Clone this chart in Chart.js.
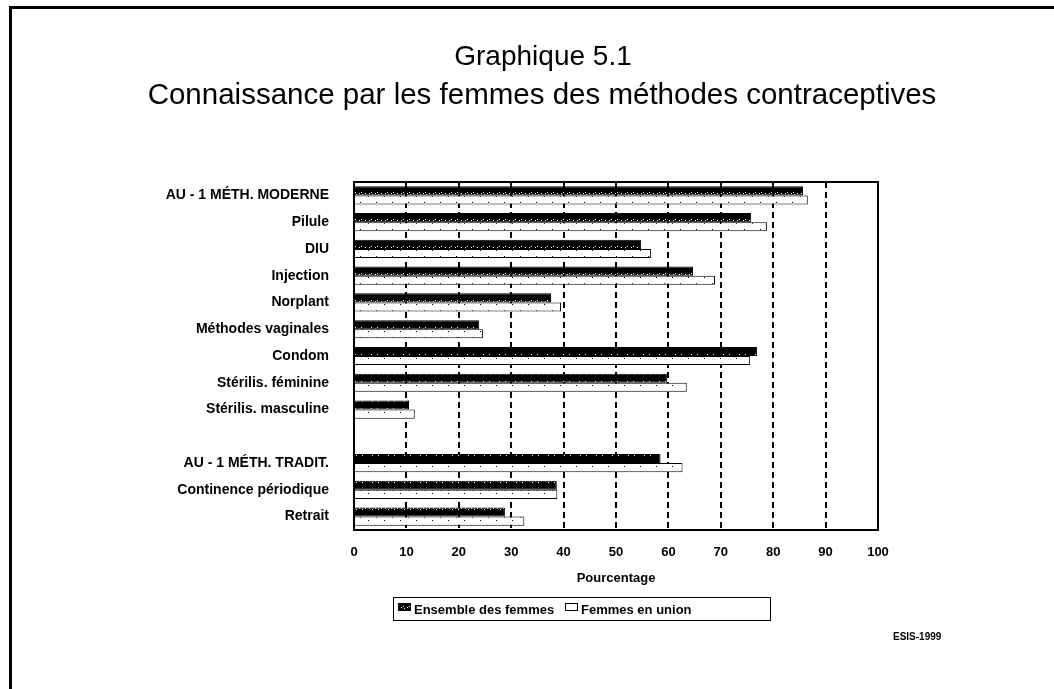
<!DOCTYPE html>
<html>
<head>
<meta charset="utf-8">
<script src="https://cdn.jsdelivr.net/npm/chart.js@4/dist/chart.umd.min.js"></script>
<style>
  html, body { margin: 0; padding: 0; background: #fff; }
  #wrap { width: 1054px; height: 689px; position: relative; }
</style>
</head>
<body>
<div id="wrap"><canvas id="chart" width="1054" height="689"></canvas></div>
<script>
// Graphique 5.1 - connaissance des méthodes contraceptives
const categories = [
    'AU - 1 MÉTH. MODERNE', 'Pilule', 'DIU', 'Injection', 'Norplant',
    'Méthodes vaginales', 'Condom', 'Stérilis. féminine', 'Stérilis. masculine',
    '', 'AU - 1 MÉTH. TRADIT.', 'Continence périodique', 'Retrait'
];
const ensemble = [85.7, 75.8, 54.8, 64.7, 37.6, 23.9, 76.9, 59.8, 10.5, null, 58.5, 38.7, 28.8];
const enUnion = [86.6, 78.8, 56.7, 68.9, 39.5, 24.6, 75.6, 63.5, 11.6, null, 62.7, 38.8, 32.5];
const xTicks = [0, 10, 20, 30, 40, 50, 60, 70, 80, 90, 100];

const labelFont = '"Liberation Sans", Arial, sans-serif';

// motifs des barres
function makePattern(w, h, bg, fg, dots) {
    const c = document.createElement('canvas');
    c.width = w; c.height = h;
    const g = c.getContext('2d');
    g.fillStyle = bg;
    g.fillRect(0, 0, w, h);
    g.fillStyle = fg;
    dots.forEach(([x, y]) => g.fillRect(x, y, 1, 1));
    return g.createPattern(c, 'repeat');
}
const ctx = document.getElementById('chart').getContext('2d');
const darkFill = makePattern(16, 9, '#000', '#fff',
    [[1, 4], [3, 3], [4, 5], [7, 4], [9, 3], [10, 5], [13, 4]]);
const lightFill = makePattern(16, 9, '#fff', '#000', [[8, 4], [0, 7]]);

const decor = {
    id: 'decor',
    afterDraw(chart) {
        const c = chart.ctx;
        const a = chart.chartArea;
        c.save();
        // cadre de la page
        c.fillStyle = '#000';
        c.fillRect(9, 6, 3, 689);
        c.fillRect(9, 6, 1054, 3);
        // cadre du graphique
        c.strokeStyle = '#000';
        c.lineWidth = 2;
        c.strokeRect(a.left, a.top, a.right - a.left, a.bottom - a.top);
        // titre
        c.fillStyle = '#000';
        c.textAlign = 'center';
        c.textBaseline = 'alphabetic';
        c.font = '28px ' + labelFont;
        c.fillText('Graphique 5.1', 543, 65);
        c.font = '29.5px ' + labelFont;
        c.fillText('Connaissance par les femmes des méthodes contraceptives', 542, 104);
        // titre de l'axe
        c.textBaseline = 'middle';
        c.font = 'bold 13px ' + labelFont;
        c.fillText('Pourcentage', (a.left + a.right) / 2, 578);
        // légende
        c.lineWidth = 1;
        c.strokeRect(393.5, 597.5, 377, 23);
        c.fillStyle = darkFill;
        c.fillRect(398, 603, 13, 8);
        c.strokeRect(398.5, 603.5, 12, 7);
        c.fillStyle = '#fff';
        c.fillRect(565, 603, 13, 8);
        c.strokeRect(565.5, 603.5, 12, 7);
        c.fillStyle = '#000';
        c.textAlign = 'left';
        c.fillText(chart.data.datasets[0].label, 414, 610);
        c.fillText(chart.data.datasets[1].label, 581, 610);
        // source
        c.font = 'bold 10px ' + labelFont;
        c.fillText('ESIS-1999', 893, 637);
        c.restore();
    }
};

new Chart(ctx, {
    type: 'bar',
    data: {
        labels: categories,
        datasets: [{
            label: 'Ensemble des femmes',
            data: ensemble,
            backgroundColor: darkFill,
            borderColor: '#000',
            borderWidth: 1,
        }, {
            label: 'Femmes en union',
            data: enUnion,
            backgroundColor: lightFill,
            borderColor: '#000',
            borderWidth: 1,
        }],
    },
    options: {
        indexAxis: 'y',
        responsive: false,
        animation: false,
        layout: { padding: { top: 182, right: 176, bottom: 104, left: 0 } },
        datasets: { bar: { categoryPercentage: 0.68, barPercentage: 1 } },
        plugins: {
            legend: { display: false },
            tooltip: { enabled: false },
        },
        scales: {
            x: {
                min: 0,
                max: 100,
                afterBuildTicks: (scale) => { scale.ticks = xTicks.map((v) => ({ value: v })); },
                afterFit: (scale) => { scale.height = 55; },
                grid: {
                    color: (g) => (g.tick && (g.tick.value === 0 || g.tick.value === 100)) ? 'rgba(0,0,0,0)' : '#000',
                    lineWidth: 2,
                    drawTicks: false,
                },
                border: { display: false, dash: [6, 4] },
                ticks: {
                    color: '#000',
                    padding: 15,
                    font: { family: labelFont, size: 13, weight: 'bold' },
                    maxRotation: 0,
                },
            },
            y: {
                afterFit: (scale) => { scale.width = 354; },
                grid: { display: false },
                border: { display: false },
                ticks: {
                    color: '#000',
                    padding: 17,
                    autoSkip: false,
                    font: { family: labelFont, size: 14, weight: 'bold' },
                },
            },
        },
    },
    plugins: [decor],
});
</script>
</body>
</html>
